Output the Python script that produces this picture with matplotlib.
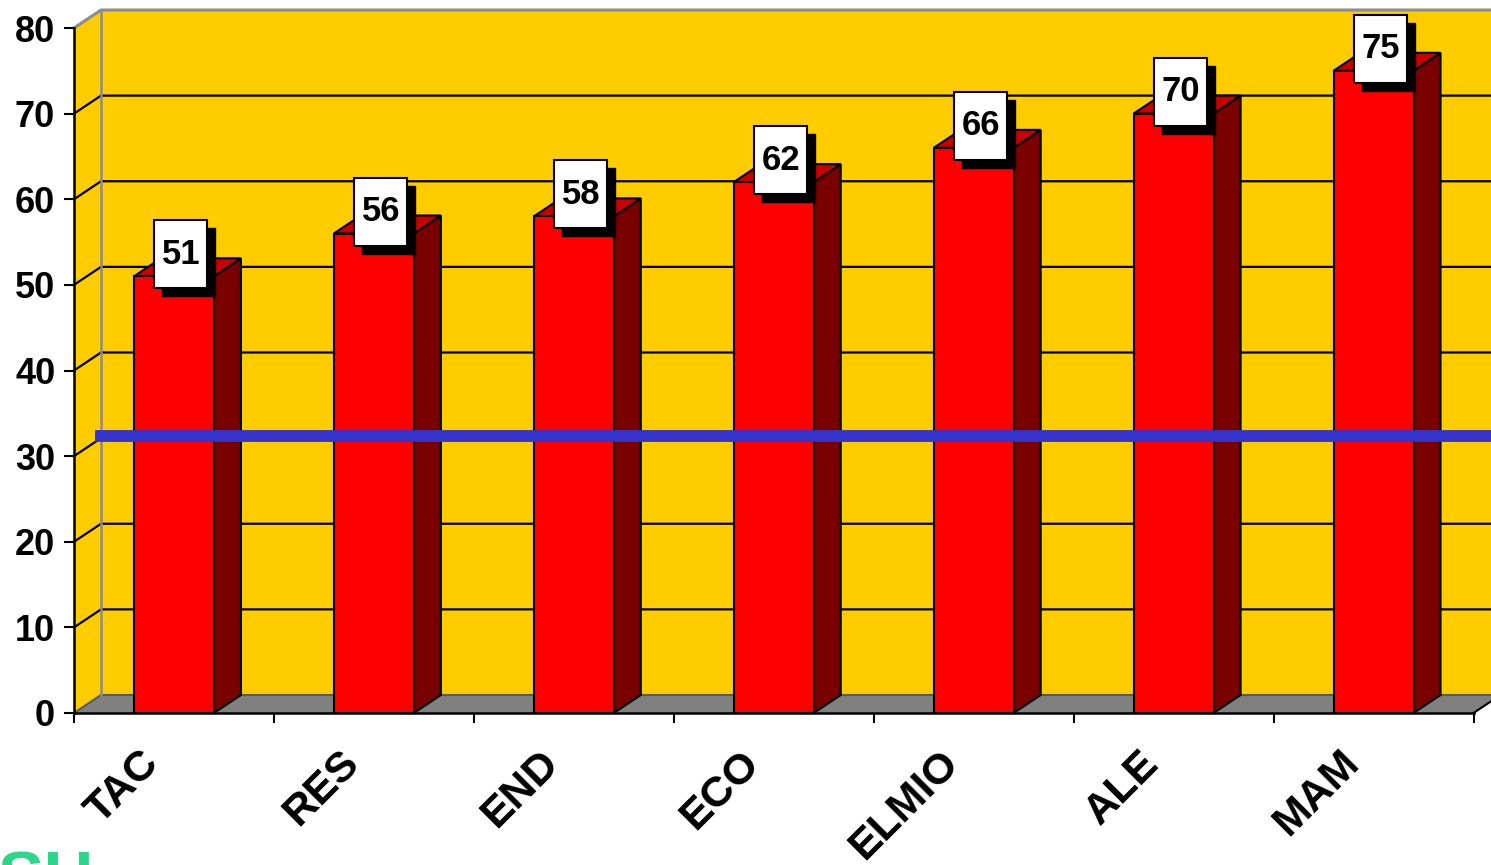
import matplotlib
matplotlib.use("Agg")
import matplotlib.pyplot as plt
import matplotlib.patches as mpatches
import matplotlib.transforms as mtransforms

plt.rcParams['font.family'] = ['Liberation Sans', 'DejaVu Sans']
plt.rcParams['font.weight'] = 'bold'

categories = ['TAC', 'RES', 'END', 'ECO', 'ELMIO', 'ALE', 'MAM']
values = [51, 56, 58, 62, 66, 70, 75]
reference = 30
y_ticks = [0, 10, 20, 30, 40, 50, 60, 70, 80]

wall_color = '#FFCC00'
floor_color = '#808080'
front_color = '#FF0000'
top_color = '#C80000'
side_color = '#7A0000'
line_color = '#3333CC'

W, H = 1491, 865
fig = plt.figure(figsize=(W / 100, H / 100), dpi=100)
ax = fig.add_axes([74 / W, (H - 713) / H, 1399.5 / W, 685 / H])
n = len(categories)
ax.set_xlim(0, n)
ax.set_ylim(0, 80)

# depth offset of the 3D effect in data units
px_x = 1399.5 / n
px_y = 685 / 80
dx = 27 / px_x
dy = 18 / px_y

# back wall, side wall and floor
ax.add_patch(mpatches.Rectangle((dx, dy), n, 80, facecolor=wall_color,
                                edgecolor='none', zorder=0, clip_on=False))
ax.add_patch(mpatches.Polygon([(0, 0), (dx, dy), (dx, 80 + dy), (0, 80)],
                              facecolor=wall_color, edgecolor='none', zorder=0, clip_on=False))
ax.add_patch(mpatches.Polygon([(0, 0), (n, 0), (n + dx, dy), (dx, dy)],
                              facecolor=floor_color, edgecolor='none', zorder=0.5, clip_on=False))
ax.plot([dx, n + dx], [dy, dy], color='#5a5a5a', lw=1.5, zorder=0.6, clip_on=False)
ax.plot([0, dx], [0, dy], color='#5a5a5a', lw=1.5, zorder=0.6, clip_on=False)
ax.plot([n, n + dx], [0, dy], color='black', lw=1.5, zorder=0.6, clip_on=False)

# grid lines on side and back wall
for t in y_ticks[1:-1]:
    ax.plot([0, dx, n + dx], [t, t + dy, t + dy], color='black', lw=1.6, zorder=0.8, clip_on=False)
ax.plot([0, dx, n + dx], [80, 80 + dy, 80 + dy], color='#8c8c8c', lw=2.2, zorder=0.8, clip_on=False)
ax.plot([dx, dx], [dy, 80 + dy], color='#8c8c8c', lw=1.8, zorder=0.8, clip_on=False)

# 3D bars
bw = 0.4
for i, v in enumerate(values):
    x0 = i + 0.5 - bw / 2
    x1 = i + 0.5 + bw / 2
    ax.add_patch(mpatches.Polygon([(x1, 0), (x1 + dx, dy), (x1 + dx, v + dy), (x1, v)],
                                  facecolor=side_color, edgecolor='black', lw=1.5, zorder=2, clip_on=False))
    ax.add_patch(mpatches.Polygon([(x0, v), (x1, v), (x1 + dx, v + dy), (x0 + dx, v + dy)],
                                  facecolor=top_color, edgecolor='black', lw=1.5, zorder=2, clip_on=False))
    ax.add_patch(mpatches.Rectangle((x0, 0), bw, v, facecolor=front_color,
                                    edgecolor='black', lw=1.5, zorder=2.1, clip_on=False))

# reference line, drawn at the back wall level
ax.plot([0.105, n + dx], [reference + dy + 0.25, reference + dy + 0.25], color=line_color,
        lw=8.5, solid_capstyle='butt', zorder=3, clip_on=False)

# value labels in boxes with shadow
bx_w = 53 / px_x
bx_h = 68 / px_y
sh_x = 8 / px_x
sh_y = 8 / px_y
for i, v in enumerate(values):
    cx = i + 0.5 + 7 / px_x
    cy = v + 22 / px_y
    ax.add_patch(mpatches.Rectangle((cx - bx_w / 2 + sh_x, cy - bx_h / 2 - sh_y), bx_w, bx_h,
                                    facecolor='black', edgecolor='black', zorder=4, clip_on=False))
    ax.add_patch(mpatches.Rectangle((cx - bx_w / 2, cy - bx_h / 2), bx_w, bx_h,
                                    facecolor='white', edgecolor='black', lw=1.5, zorder=5, clip_on=False))
    ax.text(cx, cy, str(v), ha='center', va='center', fontsize=25, fontweight='bold',
            zorder=6, clip_on=False)

# axes
for s in ['top', 'right']:
    ax.spines[s].set_visible(False)
ax.spines['left'].set_linewidth(1.8)
ax.spines['bottom'].set_linewidth(1.8)
ax.spines['left'].set_zorder(7)
ax.spines['bottom'].set_zorder(7)
ax.set_yticks(y_ticks)
ax.set_yticklabels([str(t) for t in y_ticks])
ax.tick_params(axis='y', direction='out', length=7.5, width=1.5, pad=6, labelsize=26)
ax.set_xticks(range(n + 1))
ax.set_xticklabels([])
ax.tick_params(axis='x', direction='out', length=7.5, width=1.5)
for lab in ax.get_yticklabels():
    lab.set_fontweight('bold')
ax.patch.set_visible(False)

# rotated category labels
lab_tr = mtransforms.offset_copy(ax.transData, fig=fig, x=-21, y=-44, units='dots')
for i, c in enumerate(categories):
    ax.text(i + 0.5, 0, c, transform=lab_tr, rotation=45, rotation_mode='anchor',
            ha='right', va='center', fontsize=31, fontweight='bold', clip_on=False)

# cut-off green title at the bottom edge
fig.text(-2 / W, (H - 900) / H, 'SH', color='#2ED68A', fontsize=50, fontweight='bold',
         ha='left', va='baseline')

fig.savefig('out.png', dpi=100)
